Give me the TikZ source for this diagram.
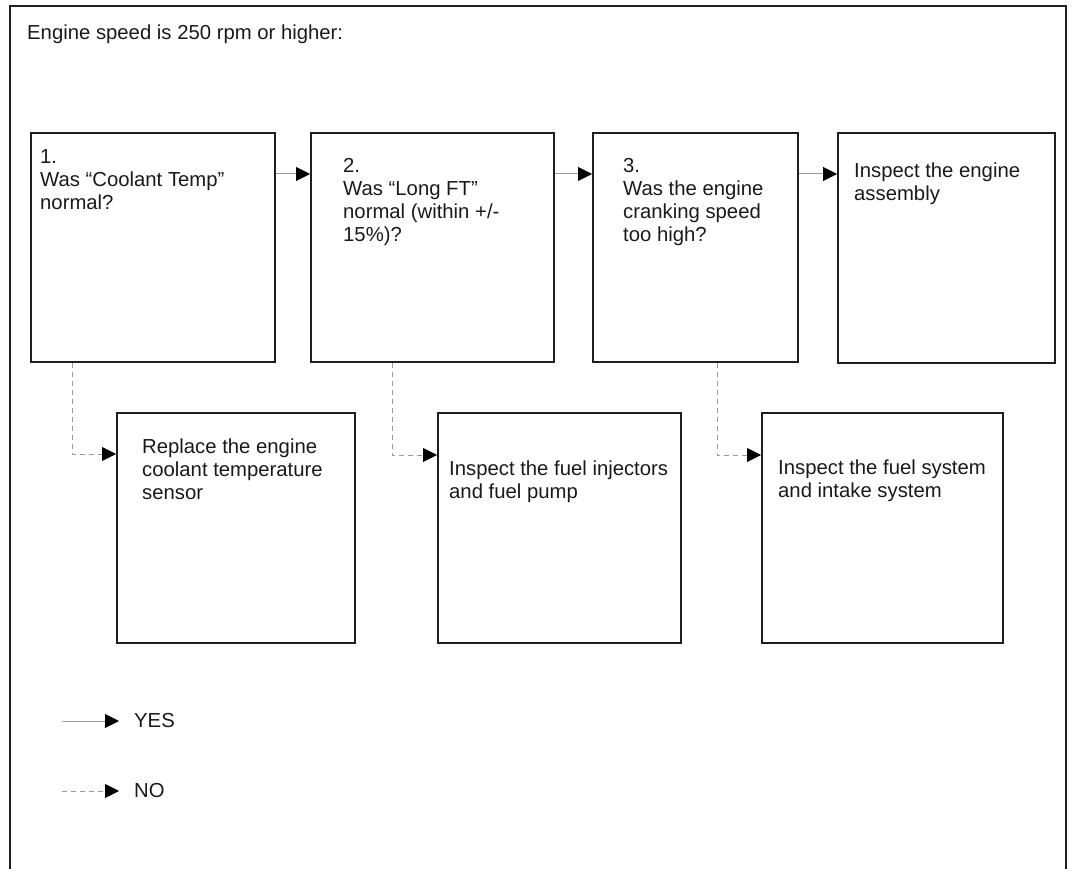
\documentclass[tikz,border=0pt]{standalone}
\usepackage{fontspec}
\setmainfont{Liberation Sans}
\usetikzlibrary{arrows.meta}
\definecolor{boxline}{HTML}{1E1E1E}
\definecolor{conn}{HTML}{9A9A9A}
\definecolor{txt}{HTML}{1A1A1A}
\newcommand{\firstln}{\rule{0pt}{18pt}}
\tikzset{
  box/.style={draw=boxline, line width=1.7pt, rectangle, inner sep=0pt, anchor=north west},
  boxtext/.style={anchor=north west, inner sep=0pt, align=left, font=\fontsize{20.3}{23}\selectfont, text=txt},
  legtext/.style={anchor=west, inner sep=0pt, font=\fontsize{20.3}{23}\selectfont, text=txt},
  yesline/.style={draw=conn, line width=1pt, -{Triangle[length=14pt,width=14pt,color=black]}},
  noline/.style={yesline, dash pattern=on 5pt off 4pt},
}
\begin{document}
\begin{tikzpicture}[x=1pt,y=-1pt]
\useasboundingbox (0,0) rectangle (1073,869);
\draw[boxline, line width=1.6pt] (10,869) -- (10,6) -- (1066,6) -- (1066,869);

\node[boxtext] (title) at (27,21) {\firstln Engine speed is 250 rpm or higher:};

% top row boxes
\node[box, minimum width=244pt, minimum height=229pt] (b1) at (30,132) {};
\node[box, minimum width=243pt, minimum height=229pt] (b2) at (310,132) {};
\node[box, minimum width=205pt, minimum height=229pt] (b3) at (592,132) {};
\node[box, minimum width=217pt, minimum height=230pt] (b4) at (837,132) {};
% bottom row boxes
\node[box, minimum width=238pt, minimum height=230pt] (bA) at (116,412) {};
\node[box, minimum width=243pt, minimum height=230pt] (bB) at (437,412) {};
\node[box, minimum width=241pt, minimum height=230pt] (bC) at (761,412) {};

% texts
\node[boxtext] (t1) at (40,145) {\firstln 1.\\Was “Coolant Temp”\\normal?};
\node[boxtext] (t2) at (343,154) {\firstln 2.\\Was “Long FT”\\normal (within +/-\\15\%)?};
\node[boxtext] (t3) at (623,154) {\firstln 3.\\Was the engine\\cranking speed\\too high?};
\node[boxtext] (t4) at (854,159) {\firstln Inspect the engine\\assembly};
\node[boxtext] (tA) at (142,435) {\firstln Replace the engine\\coolant temperature\\sensor};
\node[boxtext] (tB) at (449,457) {\firstln Inspect the fuel injectors\\and fuel pump};
\node[boxtext] (tC) at (778,456) {\firstln Inspect the fuel system\\and intake system};

% YES connectors
\draw[yesline] ([yshift=-42pt]b1.north east) -- ([yshift=-42pt]b2.north west);
\draw[yesline] ([yshift=-42pt]b2.north east) -- ([yshift=-42pt]b3.north west);
\draw[yesline] ([yshift=-42pt]b3.north east) -- ([yshift=-42pt]b4.north west);

% NO connectors
\draw[noline] ([xshift=42pt]b1.south west) |- ([yshift=-42pt]bA.north west);
\draw[noline] ([xshift=82pt]b2.south west) |- ([yshift=-43pt]bB.north west);
\draw[noline] ([xshift=125pt]b3.south west) |- ([yshift=-43pt]bC.north west);

% legend
\coordinate (ys) at (62,721);
\coordinate (ye) at (119,721);
\node[legtext] (yes) at (134,721) {YES};
\draw[yesline] (ys) -- (ye);
\coordinate (ns) at (62,791);
\coordinate (ne) at (119,791);
\node[legtext] (no) at (134,791) {NO};
\draw[noline] (ns) -- (ne);
\end{tikzpicture}
\end{document}
